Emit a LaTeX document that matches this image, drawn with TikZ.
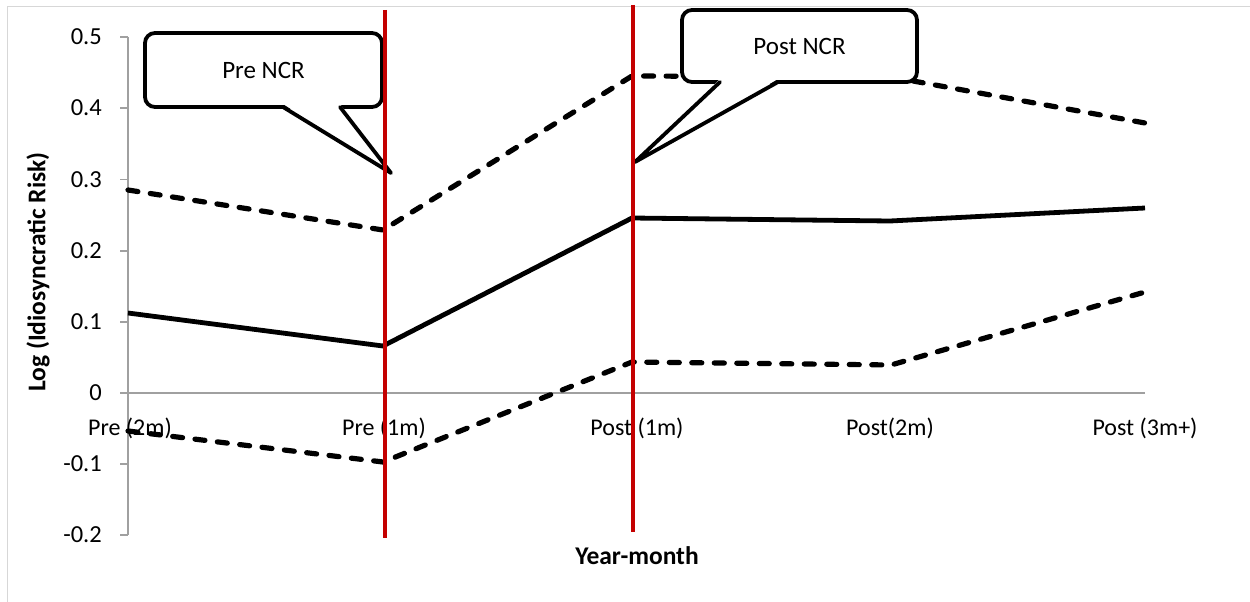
\documentclass[tikz,border=0pt]{standalone}
\usepackage{fontspec}
\setmainfont{Carlito}
\definecolor{axisgray}{RGB}{160,160,160}
\definecolor{framegray}{RGB}{215,215,215}
\definecolor{nred}{RGB}{196,0,0}
\begin{document}
\begin{tikzpicture}[x=1pt,y=-1pt,
  axis/.style={draw=axisgray, line width=1.8},
  ticklab/.style={anchor=east, font=\fontsize{24.5}{24.5}\selectfont, inner sep=0},
  catlab/.style={font=\fontsize{24}{24}\selectfont, inner sep=0},
  axtitle/.style={font=\bfseries\fontsize{25.5}{26}\selectfont, inner sep=0},
  series/.style={line width=4.8, line join=round},
  ci/.style={series, line width=5.2, dash pattern=on 10 off 12.5, line cap=round},
  callout/.style={draw, line width=3.8, fill=white, rounded corners=10, inner sep=0,
    font=\fontsize{25}{25}\selectfont},
  pointer/.style={draw, line width=3.8, line join=round, line cap=round},
  redline/.style={draw=nred, line width=4}
]
\useasboundingbox (0,0) rectangle (1250,602);
% frame
\draw[framegray, line width=1] (7,602) -- (7,7) -- (1250,7);

% axes
\coordinate (ytop) at (128,37);
\coordinate (ybot) at (128,535);
\coordinate (xl) at (128,393);
\coordinate (xr) at (1145,393);
\draw[axis] (ytop) -- (ybot);
\draw[axis] (xl) -- (xr);
\foreach \v/\yy in {0.5/37,0.4/108,0.3/179.5,0.2/251,0.1/322,0/393,-0.1/464,-0.2/535}{
  \draw[axis] (120,\yy) -- (128,\yy);
  \node[ticklab] (t\yy) at (102,\yy) {\v};
}

% category labels
\node[catlab] (c1) at (130,428) {Pre (2m)};
\node[catlab] (c2) at (384,428) {Pre (1m)};
\node[catlab] (c3) at (637,428) {Post (1m)};
\node[catlab] (c4) at (890,428) {Post(2m)};
\node[catlab] (c5) at (1145,428) {Post (3m+)};

% axis titles
\node[axtitle] (xt) at (637,556) {Year-month};
\node[axtitle, rotate=90] (yt) at (38,272) {Log (Idiosyncratic Risk)};

% data points
\coordinate (m1) at (128,313);
\coordinate (m2) at (383,346);
\coordinate (m3) at (632,218);
\coordinate (m4) at (890,221);
\coordinate (m5) at (1145,208);
\coordinate (u1) at (128,190);
\coordinate (u2) at (383,230);
\coordinate (u3) at (632,76);
\coordinate (u4) at (891,77);
\coordinate (u5) at (1145,123);
\coordinate (l1) at (128,431);
\coordinate (l2) at (383,462);
\coordinate (l3) at (632,362);
\coordinate (l4) at (891,365);
\coordinate (l5) at (1145,292);

\draw[ci] (u1) -- (u2) -- (u3) -- (u4) -- (u5);
\draw[ci] (l1) -- (l2) -- (l3) -- (l4) -- (l5);
\draw[series] (m1) -- (m2) -- (m3) -- (m4) -- (m5);

% callouts
\node[callout, minimum width=237, minimum height=74] (pre) at (263.5,70) {Pre NCR};
\coordinate (pretip) at (391,173);
\fill[white] (283,104) -- (pretip) -- (340,104) -- cycle;
\draw[pointer] (283,107) -- (pretip) -- (340,107);

\node[callout, minimum width=235, minimum height=72] (post) at (799.5,46) {Post NCR};
\coordinate (posttip) at (635,162);
\fill[white] (720,79) -- (posttip) -- (778,79) -- cycle;
\draw[pointer] (720,82) -- (posttip) -- (778,82);

% event lines
\coordinate (r1t) at (385,10);
\coordinate (r1b) at (385,538);
\coordinate (r2t) at (633,5);
\coordinate (r2b) at (633,532);
\draw[redline] (r1t) -- (r1b);
\draw[redline] (r2t) -- (r2b);
\end{tikzpicture}
\end{document}
